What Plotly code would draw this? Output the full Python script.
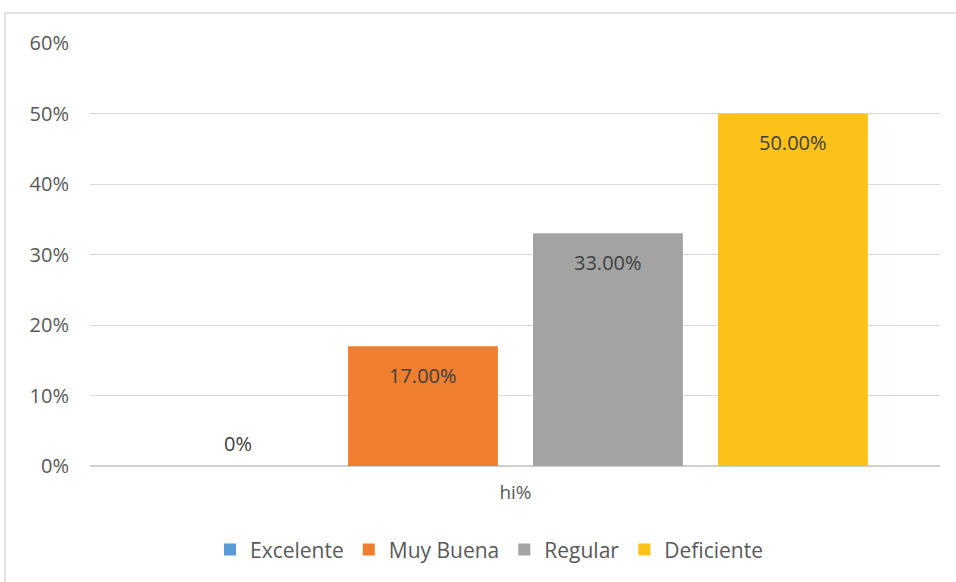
import plotly.graph_objects as go

# Distribution of responses for hi%
categories = ["Excelente", "Muy Buena", "Regular", "Deficiente"]
values = [0.0, 0.17, 0.33, 0.50]
value_labels = ["0%", "17.00%", "33.00%", "50.00%"]
colors = ["#5B9BD5", "#EF7E2E", "#A3A3A3", "#FDC21A"]
axis_category = "hi%"
y_ticks = [0.0, 0.1, 0.2, 0.3, 0.4, 0.5, 0.6]

FONT = "Open Sans"
TEXT_COLOR = "#595959"

fig = go.Figure()

for i, (name, v, c) in enumerate(zip(categories, values, colors)):
    fig.add_trace(go.Bar(
        x=[i], y=[v], name=name, width=0.81,
        marker=dict(color=c, line=dict(width=0)),
        hoverinfo="skip",
    ))
    fig.add_annotation(
        x=i, y=v, xref="x", yref="y", text=value_labels[i],
        showarrow=False, yanchor="middle",
        yshift=23 if v == 0 else -29,
        font=dict(family=FONT, size=20, color="#404040"),
    )

# outer chart frame
fig.add_shape(type="rect", xref="paper", yref="paper",
              x0=-0.1, x1=1.2, y0=-0.5, y1=1.071,
              line=dict(color="#D9D9D9", width=1.5), fillcolor="rgba(0,0,0,0)",
              layer="below")

fig.update_layout(
    width=956, height=582,
    margin=dict(l=90, r=16, t=43, b=116),
    paper_bgcolor="white", plot_bgcolor="white",
    barmode="overlay",
    showlegend=True,
    legend=dict(orientation="h", x=0.47, xanchor="center", y=-0.15, yanchor="top",
                font=dict(family=FONT, size=21, color=TEXT_COLOR),
                itemsizing="constant", traceorder="normal"),
    xaxis=dict(range=[-0.8, 3.795], tickvals=[1.5], ticktext=[axis_category],
               showgrid=False, zeroline=False, showline=False, ticks="",
               ticklabelstandoff=13,
               tickfont=dict(family=FONT, size=19, color=TEXT_COLOR), fixedrange=True),
    yaxis=dict(range=[0, 0.6], tickvals=y_ticks, tickformat=".0%",
               showgrid=True, gridcolor="#D9D9D9", gridwidth=1,
               zeroline=True, zerolinecolor="#D0D0D0", zerolinewidth=2,
               showline=False, ticks="", ticklabelstandoff=20,
               tickfont=dict(family=FONT, size=20, color=TEXT_COLOR), fixedrange=True),
)

fig.write_html("out.html")
